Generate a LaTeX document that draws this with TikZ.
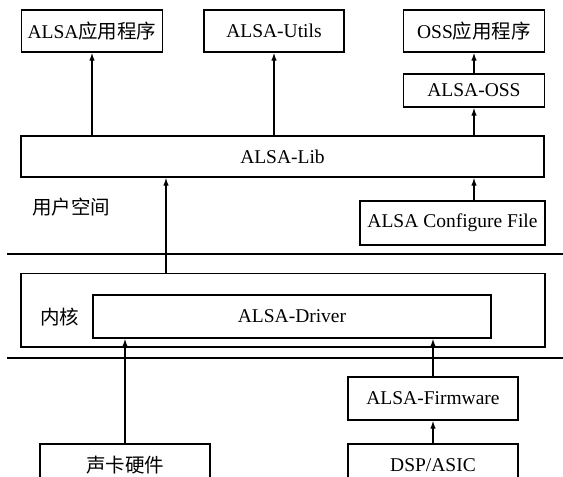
\documentclass[tikz,border=0pt]{standalone}
\usepackage{fontspec}
\setmainfont{Liberation Serif}
\newfontfamily\cjk{Noto Sans CJK SC}
\usetikzlibrary{arrows.meta}
\tikzset{
  box/.style={draw, line width=1.3pt, inner sep=0pt, font=\fontsize{19.5}{21}\selectfont},
  arr/.style={line width=1.3pt, -{Latex[length=8pt,width=5.5pt]}},
  sep/.style={line width=1.3pt},
  lbl/.style={inner sep=0pt, font=\fontsize{19.5}{21}\selectfont\cjk}
}
\begin{document}
\begin{tikzpicture}[x=1pt,y=-1pt]
\useasboundingbox (0,0) rectangle (563,477);
\clip (0,0) rectangle (563,477);
% top row
\node[box, minimum width=141pt, minimum height=42pt] (app) at (92,31) {ALSA{\cjk 应用程序}};
\node[box, minimum width=140pt, minimum height=42pt] (utils) at (274,31) {ALSA-Utils};
\node[box, minimum width=141pt, minimum height=42pt] (ossapp) at (474,31) {OSS{\cjk 应用程序}};
\node[box, minimum width=141pt, minimum height=33pt] (alsaoss) at (474,90.5) {ALSA-OSS};
% lib
\node[box, minimum width=523pt, minimum height=41pt] (lib) at (282.5,156.5) {ALSA-Lib};
\node[lbl, anchor=west] (user) at (32,207) {用户空间};
\node[box, minimum width=185pt, minimum height=44pt] (config) at (452.5,223) {ALSA Configure File};
% separators
\coordinate (s1l) at (7,254);
\coordinate (s1r) at (563,254);
\coordinate (s2l) at (7,358);
\coordinate (s2r) at (563,358);
\draw[sep] (s1l) -- (s1r);
\draw[sep] (s2l) -- (s2r);
% kernel
\node[box, minimum width=524pt, minimum height=73.5pt] (kernel) at (283,310.25) {};
\node[lbl, anchor=west] (kern) at (40,317) {内核};
\node[box, minimum width=398pt, minimum height=43pt] (driver) at (292,316.5) {ALSA-Driver};
% bottom
\node[box, minimum width=170pt, minimum height=43pt] (firm) at (433,398.5) {ALSA-Firmware};
\node[box, minimum width=170pt, minimum height=43pt] (dsp) at (433,465.5) {DSP/ASIC};
\node[box, minimum width=170pt, minimum height=43pt] (card) at (125,465.5) {{\cjk 声卡硬件}};
% arrows
\draw[arr] (lib.north -| app) -- (app.south);
\draw[arr] (lib.north -| utils) -- (utils.south);
\draw[arr] (lib.north -| alsaoss) -- (alsaoss.south);
\draw[arr] (alsaoss) -- (ossapp);
\draw[arr] (config.north -| alsaoss) -- (lib.south -| alsaoss);
\coordinate (kx) at (166,0);
\draw[arr] (kernel.north -| kx) -- (lib.south -| kx);
\draw[arr] (card) -- (driver.south -| card);
\draw[arr] (firm) -- (driver.south -| firm);
\draw[arr] (dsp) -- (firm);
\end{tikzpicture}
\end{document}
